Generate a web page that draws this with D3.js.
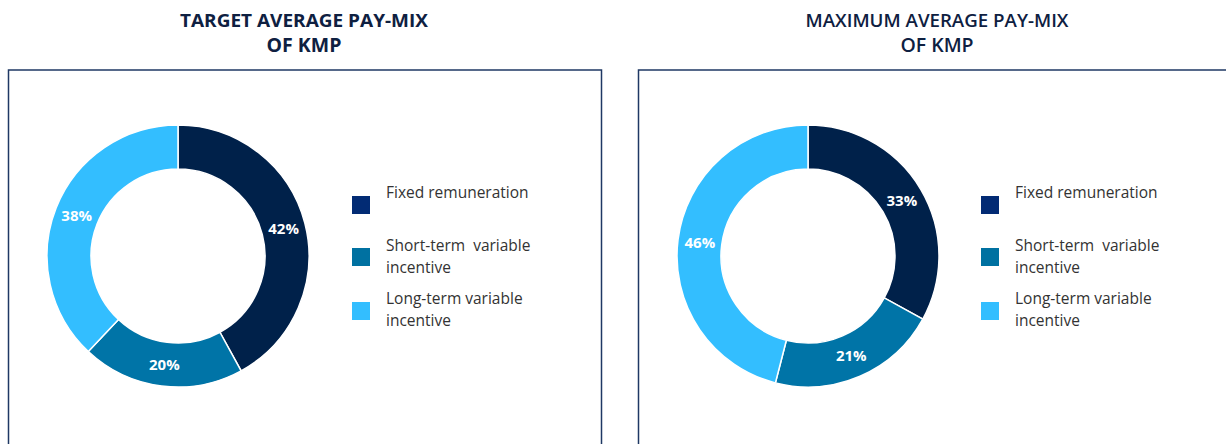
<!DOCTYPE html>
<html><head><meta charset="utf-8">
<script src="https://cdn.jsdelivr.net/npm/d3@7"></script>
<style>
html,body{margin:0;padding:0;background:#fff;}
svg{display:block;}
</style></head>
<body>
<svg id="chart" width="1226" height="444"></svg>
<script>
// ---- data ----
const categories = ["Fixed remuneration", "Short-term variable incentive", "Long-term variable incentive"];
const legendLines = [["Fixed remuneration"], ["Short-term  variable", "incentive"], ["Long-term variable", "incentive"]];
const targetValues = [42, 20, 38];
const maximumValues = [33, 21, 46];
const titleTarget = ["TARGET AVERAGE PAY-MIX", "OF KMP"];
const titleMaximum = ["MAXIMUM AVERAGE PAY-MIX", "OF KMP"];

// ---- styles ----
const sliceColors = ["#00214A", "#0074A7", "#33BEFF"];
const legendColors = ["#022B74", "#0071A1", "#33BEFF"];
const boxColor = "#1F3864";
const titleColor = "#0E2041";
const textColor = "#333333";

const svg = d3.select("#chart");

const panels = [
  {values: targetValues, title: titleTarget, bold: true, box: [8.5, 70], boxW: 593, cx: 178, cy: 256, titleX: 304, legendX: 352, titleW: 248},
  {values: maximumValues, title: titleMaximum, bold: false, box: [638.5, 70], boxW: 700, cx: 808, cy: 256, titleX: 937, legendX: 981, titleW: 263}
];

const outerR = 131, innerR = 87;
const pie = d3.pie().sort(null).value(d => d).startAngle(0).endAngle(2 * Math.PI);
const arc = d3.arc().innerRadius(innerR).outerRadius(outerR);
const labelArc = d3.arc().innerRadius((innerR + outerR) / 2).outerRadius((innerR + outerR) / 2);

panels.forEach(p => {
  // box (open at bottom)
  const [bx, by] = p.box;
  svg.append("path")
    .attr("d", `M${bx},460 V${by} H${bx + p.boxW} V460`)
    .attr("fill", "none").attr("stroke", boxColor).attr("stroke-width", 1.5);

  // title
  const t = svg.append("text")
    .attr("x", p.titleX).attr("text-anchor", "middle")
    .attr("font-family", "'Open Sans', sans-serif")
    .attr("font-weight", p.bold ? 700 : 600)
    .attr("font-size", 18.5)
    .attr("fill", titleColor);
  p.title.forEach((line, i) => {
    const ts = t.append("tspan").attr("x", p.titleX).attr("y", 27 + i * 25).text(line);
    if (i === 0) ts.attr("textLength", p.titleW).attr("lengthAdjust", "spacingAndGlyphs");
    else ts.attr("font-size", 19.5);
  });

  // donut
  const g = svg.append("g").attr("transform", `translate(${p.cx},${p.cy})`);
  const arcs = pie(p.values);
  g.selectAll("path.slice").data(arcs).join("path")
    .attr("class", "slice")
    .attr("d", arc)
    .attr("fill", (d, i) => sliceColors[i])
    .attr("stroke", "#fff").attr("stroke-width", 1.5);
  g.selectAll("text.lbl").data(arcs).join("text")
    .attr("class", "lbl")
    .attr("transform", d => `translate(${labelArc.centroid(d)})`)
    .attr("text-anchor", "middle").attr("dy", "0.36em")
    .attr("font-family", "'Open Sans', sans-serif")
    .attr("font-weight", 700).attr("font-size", 15)
    .attr("fill", "#fff")
    .text(d => d.value + "%");

  // legend
  const squareY = [196, 248, 302];
  const textY = [[198], [251, 273], [304, 326]];
  const lg = svg.append("g");
  categories.forEach((c, i) => {
    lg.append("rect")
      .attr("x", p.legendX).attr("y", squareY[i])
      .attr("width", 18).attr("height", 18)
      .attr("fill", legendColors[i]);
    const tx = lg.append("text")
      .attr("font-family", "'Open Sans', sans-serif")
      .attr("font-size", 15.5)
      .attr("fill", textColor)
      .style("white-space", "pre")
      .attr("xml:space", "preserve");
    legendLines[i].forEach((line, j) => {
      tx.append("tspan").attr("x", p.legendX + 34).attr("y", textY[i][j]).text(line);
    });
  });
});
</script>
</body></html>
